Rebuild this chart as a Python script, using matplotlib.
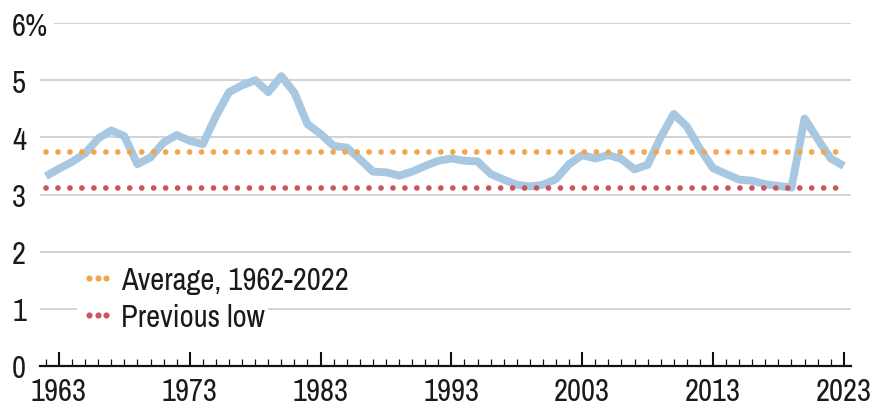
import matplotlib
matplotlib.use("Agg")
import matplotlib.pyplot as plt
from matplotlib import font_manager
from matplotlib.lines import Line2D
from matplotlib.ticker import FixedLocator

fl = font_manager.fontManager.ttflist
names = sorted({f.name for f in fl})
narrow = [n for n in names if ("Narrow" in n or "Condensed" in n)]
dv_cond = any(f.name == "DejaVu Sans" and f.stretch in ("condensed", "semi-condensed", 500, 300) for f in fl)
if narrow:
    FONT = narrow[0]; FS = 22
    plt.rcParams["font.family"] = [FONT, "DejaVu Sans"]
elif dv_cond:
    FONT = "DejaVu Sans"; FS = 17
    plt.rcParams["font.family"] = ["DejaVu Sans"]
    plt.rcParams["font.stretch"] = "condensed"
else:
    FONT = "Roboto"; FS = 17
    plt.rcParams["font.family"] = ["Roboto", "DejaVu Sans"]
plt.rcParams["font.weight"] = "light"

years = list(range(1962, 2024))
values = [3.32, 3.45, 3.57, 3.72, 3.98, 4.12, 4.02, 3.53, 3.65, 3.91,
          4.04, 3.94, 3.88, 4.37, 4.79, 4.91, 5.00, 4.79, 5.07, 4.78,
          4.23, 4.06, 3.85, 3.82, 3.62, 3.40, 3.39, 3.33, 3.40, 3.50,
          3.59, 3.63, 3.59, 3.58, 3.36, 3.26, 3.17, 3.14, 3.17, 3.27,
          3.53, 3.69, 3.63, 3.69, 3.62, 3.44, 3.52, 4.00, 4.41, 4.19,
          3.80, 3.46, 3.36, 3.26, 3.24, 3.18, 3.15, 3.12, 4.33, 3.97,
          3.63, 3.50]
average = 3.75
previous_low = 3.11
series_labels = ["Average, 1962-2022", "Previous low"]
ytick_labels = ["0", "1", "2", "3", "4", "5", "6%"]
xtick_years = [1963, 1973, 1983, 1993, 2003, 2013, 2023]

BLUE = "#a8c8e1"
ORANGE = "#f0a64c"
RED = "#cb545d"
TEXT = "#1a1a1a"

fig = plt.figure(figsize=(8.73, 4.10), dpi=100)
ax = fig.add_axes([40/873, 1-367/410, 811/873, 343/410])

ax.plot(years, values, color=BLUE, lw=5.7, solid_joinstyle="round",
        solid_capstyle="butt", zorder=3)
dot = (0, (0.001, 2.1))
ax.plot([years[0], years[-1]], [average, average], color=ORANGE, lw=4.1,
        linestyle=dot, dash_capstyle="round", zorder=4)
ax.plot([years[0], years[-1]], [previous_low, previous_low], color=RED, lw=4.1,
        linestyle=dot, dash_capstyle="round", zorder=4)

ax.set_xlim(1961.55, 2023.55)
ax.set_ylim(0, 6)

for s in ["top", "right", "left"]:
    ax.spines[s].set_visible(False)
ax.spines["bottom"].set_color("#111111")
ax.spines["bottom"].set_linewidth(1.6)
ax.spines["bottom"].set_zorder(5)

ax.set_yticks(range(7))
ax.set_yticklabels(ytick_labels)
ax.tick_params(axis="y", length=0, pad=20, labelsize=FS, labelcolor=TEXT)
for lab in ax.get_yticklabels():
    lab.set_ha("left")
ax.get_yticklabels()[-1].set_bbox(dict(facecolor="white", edgecolor="none", pad=4))
ax.yaxis.grid(True, color="#c6c6c6", lw=1.1)
ax.set_axisbelow(True)

ax.xaxis.set_major_locator(FixedLocator(xtick_years))
ax.xaxis.set_minor_locator(FixedLocator(years))
ax.set_xticklabels([str(y) for y in xtick_years])
ax.tick_params(axis="x", which="major", direction="in", length=10, width=1.5,
               color="#111111", pad=8, labelsize=FS, labelcolor=TEXT)
ax.tick_params(axis="x", which="minor", direction="in", length=5, width=0.9,
               color="#111111")

h1 = Line2D([], [], color=ORANGE, marker="o", markersize=3.4, linestyle="none")
h2 = Line2D([], [], color=RED, marker="o", markersize=3.4, linestyle="none")
common = dict(loc="center left", numpoints=3, handlelength=1.15,
              handletextpad=0.2, borderpad=0.1, borderaxespad=0,
              fontsize=FS, labelcolor=TEXT)
leg1 = ax.legend([h1], [series_labels[0]], bbox_to_anchor=(37/811, 86/343),
                 frameon=False, **common)
ax.add_artist(leg1)
leg2 = ax.legend([h2], [series_labels[1]], bbox_to_anchor=(37/811, 49/343),
                 frameon=True, facecolor="white", edgecolor="none",
                 framealpha=1, fancybox=False, **common)
leg1.set_zorder(6)
leg2.set_zorder(6)

fig.savefig("out.png", dpi=100)
